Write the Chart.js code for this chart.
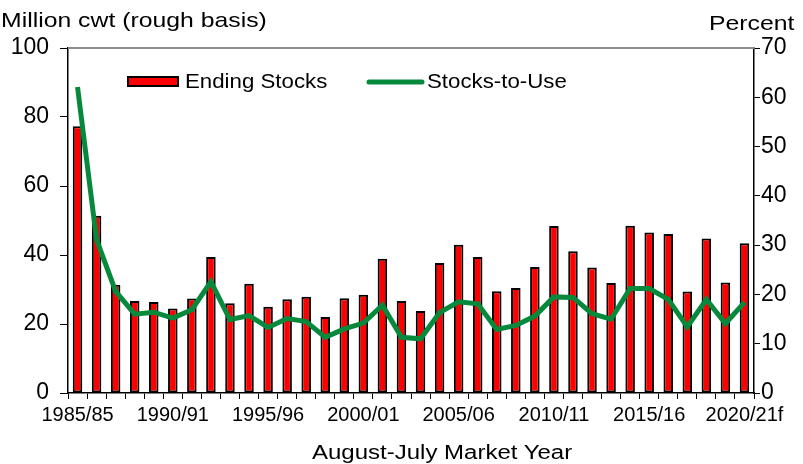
<!DOCTYPE html>
<html>
<head>
<meta charset="utf-8">
<script src="https://cdn.jsdelivr.net/npm/chart.js@4"></script>
<style>
  body { margin: 0; background: #fff; }
  #wrap { position: relative; width: 803px; height: 464px; }
  .lbl { position: absolute; font-family: "Liberation Sans", Arial, sans-serif; font-size: 21px; color: #000; white-space: nowrap; line-height: 1; transform-origin: left top; transform: scaleX(1.18); }
</style>
</head>
<body>
<div id="wrap">
  <canvas id="chart" width="803" height="464"></canvas>
  <div class="lbl" style="left:1px; top:9px;">Million cwt (rough basis)</div>
  <div class="lbl" style="left:709px; top:12px;">Percent</div>
  <div class="lbl" style="left:312px; top:442px; font-size:20px; transform: scaleX(1.2);">August-July Market Year</div>
</div>
<script>
// market years 1985/86 .. 2020/21
const years = [];
for (let y = 1985; y <= 2020; y++) {
  years.push(y + '/' + String((y + 1) % 100).padStart(2, '0'));
}
// labels as printed on the original axis (every 5th year)
const tickLabels = ['1985/85', '1990/91', '1995/96', '2000/01', '2005/06', '2010/11', '2015/16', '2020/21f'];

// million cwt
const endingStocks = [77.3, 51.4, 31.4, 26.7, 26.4, 24.5, 27.4, 39.4, 26.0, 31.7,
  25.0, 27.2, 27.9, 22.0, 27.5, 28.5, 38.9, 26.7, 23.8, 37.7,
  43.0, 39.4, 29.5, 30.4, 36.5, 48.4, 41.1, 36.4, 31.9, 48.5,
  46.5, 46.1, 29.4, 44.8, 32.0, 43.4];
// percent
const stocksToUse = [62.1, 31.1, 20.6, 16.0, 16.4, 15.2, 16.9, 22.6, 14.9, 15.7,
  13.3, 15.1, 14.5, 11.3, 13.0, 14.2, 17.8, 11.3, 11.0, 16.3,
  18.5, 18.1, 12.9, 13.7, 15.6, 19.5, 19.4, 16.1, 15.0, 21.2,
  21.2, 19.0, 13.4, 19.0, 14.1, 18.4];

const FONT = '"Liberation Sans", Arial, sans-serif';
const RED = '#ff0000';
const GREEN = '#07893c';

// stretched text, the original artwork is a bit wide
function wideText(ctx, txt, x, y, sx) {
  ctx.save();
  ctx.translate(x, y);
  ctx.scale(sx, 1);
  ctx.fillText(txt, 0, 0);
  ctx.restore();
}

// gray top border + legend inside the plot
const extras = {
  id: 'extras',
  afterDraw(chart) {
    const ctx = chart.ctx;
    const a = chart.chartArea;
    ctx.save();
    ctx.strokeStyle = '#8c8c8c';
    ctx.lineWidth = 2;
    ctx.beginPath();
    ctx.moveTo(a.left, a.top);
    ctx.lineTo(a.right, a.top);
    ctx.stroke();

    // legend
    ctx.fillStyle = RED;
    ctx.fillRect(128, 77, 50, 9);
    ctx.strokeStyle = '#000';
    ctx.lineWidth = 2;
    ctx.strokeRect(128, 77, 50, 9);
    ctx.fillStyle = '#000';
    ctx.font = '21px ' + FONT;
    ctx.textBaseline = 'middle';
    wideText(ctx, 'Ending Stocks', 185, 82, 1.06);

    ctx.strokeStyle = GREEN;
    ctx.lineWidth = 5;
    ctx.lineCap = 'round';
    ctx.beginPath();
    ctx.moveTo(369, 82);
    ctx.lineTo(422, 82);
    ctx.stroke();
    wideText(ctx, 'Stocks-to-Use', 427, 82, 1.06);
    ctx.restore();
  }
};

new Chart(document.getElementById('chart'), {
  data: {
    labels: years,
    datasets: [{
      type: 'line',
      label: 'Stocks-to-Use',
      data: stocksToUse,
      yAxisID: 'y1',
      borderColor: GREEN,
      borderWidth: 5,
      pointRadius: 0,
      tension: 0,
      order: 0
    }, {
      type: 'bar',
      label: 'Ending Stocks',
      data: endingStocks,
      yAxisID: 'y',
      backgroundColor: RED,
      borderColor: '#000',
      borderWidth: 2,
      borderSkipped: false,
      barPercentage: 0.5,
      categoryPercentage: 1,
      order: 1
    }]
  },
  options: {
    responsive: false,
    animation: false,
    layout: { padding: { top: 48, left: 0, right: 0, bottom: 0 } },
    plugins: { legend: { display: false }, tooltip: { enabled: false } },
    scales: {
      x: {
        offset: true,
        grid: { offset: true, drawOnChartArea: false, tickLength: 6, color: '#000' },
        border: { color: '#000', width: 1.5 },
        ticks: {
          autoSkip: false,
          maxRotation: 0,
          padding: 4,
          color: '#000',
          font: { family: FONT, size: 20 },
          callback: (v, i) => (i % 5 === 0 ? tickLabels[i / 5] : '')
        },
        afterFit: s => { s.height = 71; }
      },
      y: {
        position: 'left',
        min: 0,
        max: 100,
        grid: { drawOnChartArea: false, tickLength: 8, color: '#000' },
        border: { color: '#000', width: 1.5 },
        ticks: { stepSize: 20, padding: 11, color: '#000', font: { family: FONT, size: 23 } },
        afterFit: s => { s.width = 68; }
      },
      y1: {
        position: 'right',
        min: 0,
        max: 70,
        grid: { drawOnChartArea: false, tickLength: 6, color: '#000' },
        border: { color: '#000', width: 1.5 },
        ticks: { stepSize: 10, padding: 1, color: '#000', font: { family: FONT, size: 23 } },
        afterFit: s => { s.width = 49; }
      }
    }
  },
  plugins: [extras]
});
</script>
</body>
</html>
